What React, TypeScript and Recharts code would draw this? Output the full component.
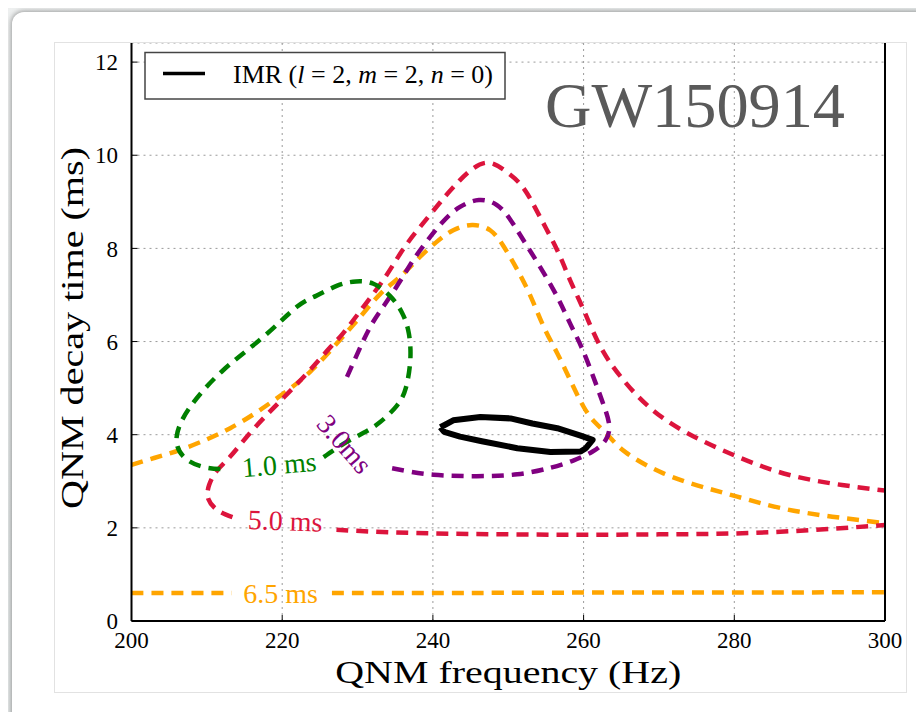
import React from "react";
import { ComposedChart, Line, XAxis, YAxis, CartesianGrid, ReferenceDot, Label } from "recharts";

const freqTicks = [200, 220, 240, 260, 280, 300];
const tauTicks = [0, 2, 4, 6, 8, 10, 12];

// [frequency Hz, decay time ms], each contour split where its label sits
const green10: [number, number][] = [
  [225.5, 3.52], [228.1, 3.8], [230.8, 4.04], [233, 4.27], [235.2, 4.62], [236.4, 5.0], [237, 5.6],
  [236.8, 6.18], [235.9, 6.62], [234.3, 6.98], [232.1, 7.24], [229.8, 7.29], [227.3, 7.2], [224.5, 6.98],
  [221.9, 6.74], [217.5, 6.1], [212.2, 5.39], [207.8, 4.6], [206, 3.96], [206.9, 3.53], [209.5, 3.31], [212.4, 3.26],
];
const orange65Upper: [number, number][] = [
  [200, 3.35], [203, 3.5], [206.4, 3.67], [210, 3.9], [213.1, 4.14], [216.5, 4.47], [220.2, 4.89], [223.7, 5.35],
  [227.3, 5.97], [230.4, 6.54], [233, 7.02], [235.7, 7.4], [238.3, 7.82], [240.5, 8.14], [242.7, 8.39], [245.2, 8.5],
  [247.6, 8.39], [249.4, 8.04], [251.2, 7.54], [253, 6.96], [254.7, 6.32], [256.5, 5.75], [258.2, 5.18], [260, 4.6],
  [261.6, 4.25], [263.4, 3.96], [265.6, 3.62], [270.6, 3.17], [276.4, 2.85], [280.4, 2.67], [286.3, 2.42], [293, 2.24], [300, 2.1],
];
const orange65LowLeft: [number, number][] = [[200, 0.6], [206, 0.6], [213.3, 0.6]];
const orange65LowRight: [number, number][] = [[226.6, 0.6], [240, 0.6], [260, 0.61], [280, 0.61], [300, 0.62]];
const red50Upper: [number, number][] = [
  [213.4, 2.23], [211.5, 2.37], [210.2, 2.62], [210.3, 2.92], [211.3, 3.22], [213.1, 3.53], [215.7, 4.03], [218.4, 4.5],
  [221, 4.93], [223.7, 5.39], [226.4, 5.88], [228.1, 6.18], [230.8, 6.75], [233.7, 7.39], [236.3, 8.04], [239.2, 8.64],
  [241.6, 9.11], [243.5, 9.45], [245.2, 9.7], [247.4, 9.84], [249.8, 9.64], [252, 9.3], [254.2, 8.68], [256.5, 7.96],
  [258.2, 7.32], [260, 6.68], [262.3, 5.87], [265.2, 5.19], [268.8, 4.58], [273.7, 4.04], [280.4, 3.53], [287.2, 3.14],
  [294.3, 2.92], [300, 2.8],
];
const red50Lower: [number, number][] = [
  [227.2, 1.96], [232, 1.92], [240, 1.88], [250, 1.86], [260, 1.85], [270, 1.86], [280, 1.88], [290, 1.95], [300, 2.06],
];
const purple30: [number, number][] = [
  [228.6, 5.24], [230.4, 5.89], [232.1, 6.43], [234.3, 6.96], [236.5, 7.52], [238.3, 7.96], [241.2, 8.55], [243.6, 8.89],
  [246.1, 9.04], [248.5, 8.93], [250.3, 8.61], [252, 8.18], [254.2, 7.61], [256.5, 6.96], [258.2, 6.39], [259.8, 5.85],
  [261.5, 5.15], [262.7, 4.62], [263.4, 4.2], [262.9, 3.88], [261.2, 3.64], [258.7, 3.45], [255.6, 3.29], [251.2, 3.15],
  [245.8, 3.11], [240.1, 3.14], [236.5, 3.22], [234.2, 3.29],
];
const imrContour: [number, number][] = [
  [241, 4.16], [242.7, 4.31], [246.3, 4.38], [250.3, 4.35], [253.2, 4.24], [256.5, 4.14], [259.6, 3.98], [261.2, 3.89],
  [260.3, 3.71], [259.6, 3.64], [255.6, 3.63], [251.2, 3.71], [246.5, 3.86], [243.6, 3.96], [241.5, 4.06], [241, 4.16],
];

const GREEN = "#008000";
const ORANGE = "#ffa500";
const RED = "#dc143c";
const PURPLE = "#800080";
const FONT = "'Liberation Serif', 'Times New Roman', serif";

const contourLabels = [
  { text: "1.0 ms", f: 219.6, t: 3.36, angle: -5, color: GREEN },
  { text: "5.0 ms", f: 220.4, t: 2.15, angle: 2, color: RED },
  { text: "6.5 ms", f: 219.8, t: 0.6, angle: 0, color: ORANGE },
  { text: "3.0ms", f: 228.3, t: 3.8, angle: 49, color: PURPLE },
];

const toPts = (seg: [number, number][]) => seg.map(([x, y]) => ({ x, y }));

const dashed = (seg: [number, number][], color: string, key: string) => (
  <Line
    key={key}
    data={toPts(seg)}
    dataKey="y"
    type="natural"
    stroke={color}
    strokeWidth={4.5}
    strokeDasharray="12 8"
    dot={false}
    activeDot={false}
    isAnimationActive={false}
  />
);

const YTitle = (p: any) => {
  const vb = p.viewBox;
  const cx = vb.x + 28;
  const cy = vb.y + vb.height / 2 - 4;
  return (
    <text transform={`translate(${cx},${cy}) rotate(-90)`} textAnchor="middle" fontSize={31} fill="#000"
      fontFamily={FONT} textLength={362} lengthAdjust="spacingAndGlyphs">
      QNM decay time (ms)
    </text>
  );
};

const XTitle = (p: any) => {
  const vb = p.viewBox;
  return (
    <text x={vb.x + vb.width / 2} y={640} textAnchor="middle" fontSize={31} fill="#000" fontFamily={FONT}
      textLength={346} lengthAdjust="spacingAndGlyphs">
      QNM frequency (Hz)
    </text>
  );
};

export default function App() {
  return (
    <div style={{ position: "relative", margin: -8, width: 924, height: 720, overflow: "hidden",
      background: "linear-gradient(160deg, #eef0f0 0%, #e3e7e7 50%, #eceeee 100%)" }}>
      <div style={{ position: "absolute", left: 12, top: 12, width: 940, height: 740, background: "#fff",
        borderRadius: 12, boxShadow: "0 0 5px 1px rgba(0,0,0,0.35)" }} />
      <div style={{ position: "absolute", left: 55, top: 43, width: 851, height: 649, overflow: "hidden",
        outline: "1px solid #e2e2e2", background: "#fff" }}>
        <ComposedChart width={851} height={649} margin={{ top: 0, right: 0, bottom: 0, left: 0 }}
          style={{ fontFamily: FONT }}>
          <CartesianGrid stroke="#9a9a9a" strokeDasharray="2 4" strokeWidth={1} />
          <XAxis dataKey="x" type="number" domain={[200, 300]} ticks={freqTicks} allowDataOverflow
            height={71} tickSize={-6} tickMargin={17} interval={0}
            axisLine={{ stroke: "#000", strokeWidth: 2 }} tickLine={{ stroke: "#000" }}
            tick={{ fontSize: 23, fill: "#000", fontFamily: FONT }}>
            <Label content={XTitle} />
          </XAxis>
          <YAxis type="number" domain={[0, 12.41]} ticks={tauTicks} allowDataOverflow width={76.5}
            tickSize={-6} tickMargin={19.5} interval={0}
            axisLine={{ stroke: "#000", strokeWidth: 2 }} tickLine={{ stroke: "#000" }}
            tick={{ fontSize: 23, fill: "#000", fontFamily: FONT }}>
            <Label content={YTitle} />
          </YAxis>
          <YAxis yAxisId="r" orientation="right" type="number" domain={[0, 12.41]} ticks={tauTicks}
            allowDataOverflow width={21} tickSize={-6} tick={false} interval={0}
            axisLine={{ stroke: "#000", strokeWidth: 2 }} tickLine={{ stroke: "#000" }} />
          {dashed(orange65Upper, ORANGE, "o1")}
          {dashed(orange65LowLeft, ORANGE, "o2")}
          {dashed(orange65LowRight, ORANGE, "o3")}
          {dashed(red50Upper, RED, "r1")}
          {dashed(red50Lower, RED, "r2")}
          {dashed(purple30, PURPLE, "p1")}
          {dashed(green10, GREEN, "g1")}
          <Line data={toPts(imrContour)} dataKey="y" type="linear" stroke="#000" strokeWidth={6}
            strokeLinejoin="round" dot={false} activeDot={false} isAnimationActive={false} />
          {contourLabels.map((l) => (
            <ReferenceDot key={l.text} x={l.f} y={l.t} r={0}
              shape={(p: any) => (
                <text x={p.cx} y={p.cy} transform={`rotate(${l.angle},${p.cx},${p.cy})`} textAnchor="middle"
                  dominantBaseline="central" fontSize={28} fill={l.color} fontFamily={FONT}>
                  {l.text}
                </text>
              )} />
          ))}
        </ComposedChart>
        <svg width={851} height={649} style={{ position: "absolute", left: 0, top: 0, pointerEvents: "none" }}>
          <rect x={90} y={9.5} width={360} height={46.5} fill="#fff" stroke="#444" strokeWidth={1.5} />
          <line x1={108} x2={150} y1={30.5} y2={30.5} stroke="#000" strokeWidth={3.5} />
          <text x={178} y={40} fontSize={25} fontFamily={FONT} fill="#000" textLength={260} lengthAdjust="spacingAndGlyphs">
            IMR (<tspan fontStyle="italic">l</tspan> = 2, <tspan fontStyle="italic">m</tspan> = 2, <tspan fontStyle="italic">n</tspan> = 0)
          </text>
          <text x={490} y={84} fontSize={64} fontFamily={FONT} fill="#5a5a5a" textLength={300} lengthAdjust="spacingAndGlyphs">
            GW150914
          </text>
        </svg>
      </div>
    </div>
  );
}
